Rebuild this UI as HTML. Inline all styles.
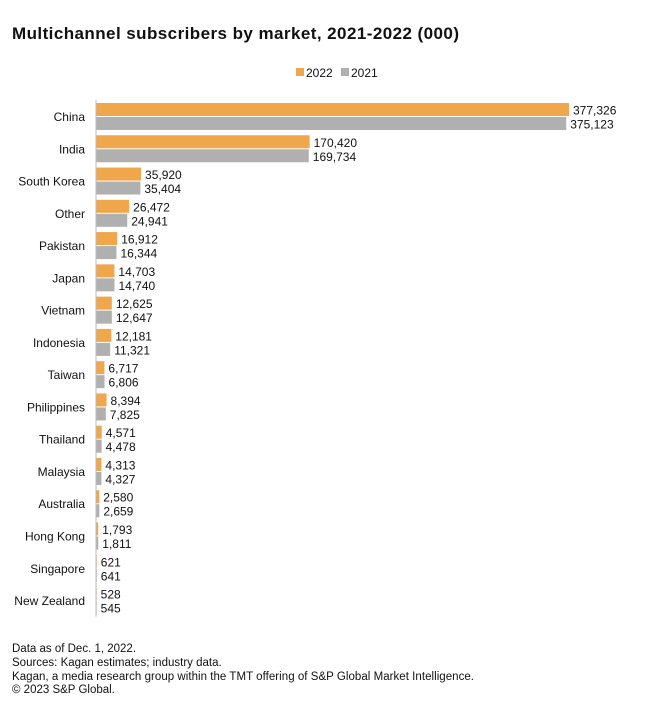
<!DOCTYPE html>
<html><head><meta charset="utf-8"><style>
body{margin:0;background:#fff;font-family:"Liberation Sans",Arial,sans-serif;}
svg text{font-family:"Liberation Sans",Arial,sans-serif;}
</style></head><body>
<svg id="chart" width="660" height="710" xmlns="http://www.w3.org/2000/svg">
<text x="12" y="39" font-size="17" font-weight="bold" fill="#111" textLength="447" lengthAdjust="spacing">Multichannel subscribers by market, 2021-2022 (000)</text>
<g>
<rect x="296" y="68" width="8" height="8" fill="#f0a64a"/>
<text x="306" y="77" font-size="12" fill="#111">2022</text>
<rect x="341" y="68" width="8" height="8" fill="#b0b0b0"/>
<text x="351" y="77" font-size="12" fill="#111">2021</text>
</g>
<g id="plot"></g>
<line x1="96" y1="100" x2="96" y2="617" stroke="#bbb" stroke-width="1"/>
<g font-size="11.5" fill="#111">
<text x="12" y="652">Data as of  Dec. 1, 2022.</text>
<text x="12" y="666">Sources: Kagan estimates; industry data.</text>
<text x="12" y="680" textLength="462" lengthAdjust="spacing">Kagan, a media research group within the TMT offering of S&amp;P Global Market Intelligence.</text>
<text x="12" y="693">© 2023 S&amp;P Global.</text>
</g>
</svg>
<script>
const categories=["China","India","South Korea","Other","Pakistan","Japan","Vietnam","Indonesia","Taiwan","Philippines","Thailand","Malaysia","Australia","Hong Kong","Singapore","New Zealand"];
const values2022=[377326,170420,35920,26472,16912,14703,12625,12181,6717,8394,4571,4313,2580,1793,621,528];
const values2021=[375123,169734,35404,24941,16344,14740,12647,11321,6806,7825,4478,4327,2659,1811,641,545];
const NS="http://www.w3.org/2000/svg";
const x0=96,pxPer=473/377326,top0=103,step=32.27,bh=13;
const xs=v=>v*pxPer;
const g=document.getElementById('plot');
function mk(t,a){const e=document.createElementNS(NS,t);for(const k in a)e.setAttribute(k,a[k]);return e;}
const fmt=v=>v.toLocaleString('en-US');
categories.forEach((c,i)=>{
  const y=top0+i*step;
  const lab=mk('text',{x:85,y:y+18,'font-size':12,fill:'#111','text-anchor':'end'});
  
  
  lab.textContent=c;g.appendChild(lab);
  [[values2022[i],'#f0a64a',y,'2022'],[values2021[i],'#b0b0b0',y+bh+1,'2021']].forEach(([v,col,yy,s])=>{
    const w=xs(v);
    const r=mk('rect',{x:x0,y:yy,width:Math.max(w,0.5),height:bh,fill:col});
    
    
    g.appendChild(r);
    const t=mk('text',{x:x0+w+4,y:yy+11.5,'font-size':12,fill:'#111'});
    
    
    t.textContent=fmt(v);g.appendChild(t);
  });
});
</script>
</body></html>
